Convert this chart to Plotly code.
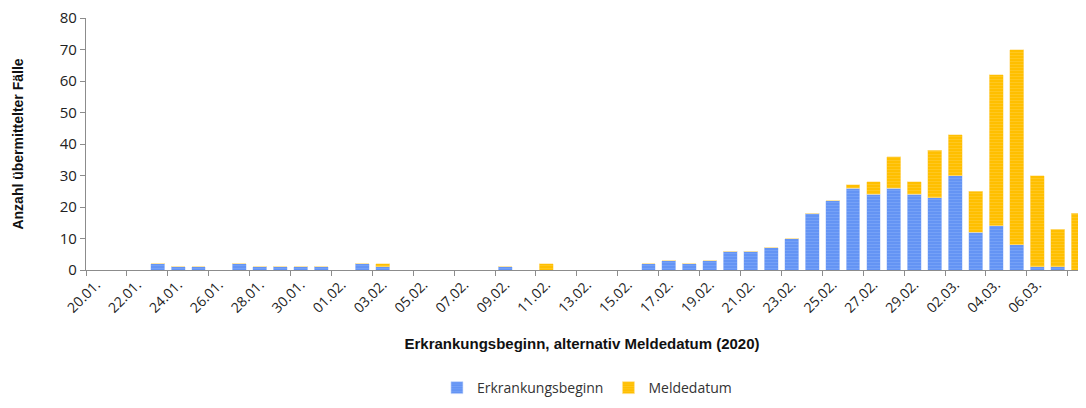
import plotly.graph_objects as go

dates = ["20.01.", "21.01.", "22.01.", "23.01.", "24.01.", "25.01.", "26.01.", "27.01.", "28.01.", "29.01.",
         "30.01.", "31.01.", "01.02.", "02.02.", "03.02.", "04.02.", "05.02.", "06.02.", "07.02.", "08.02.",
         "09.02.", "10.02.", "11.02.", "12.02.", "13.02.", "14.02.", "15.02.", "16.02.", "17.02.", "18.02.",
         "19.02.", "20.02.", "21.02.", "22.02.", "23.02.", "24.02.", "25.02.", "26.02.", "27.02.", "28.02.",
         "29.02.", "01.03.", "02.03.", "03.03.", "04.03.", "05.03.", "06.03.", "07.03.", "08.03."]

erkrankungsbeginn = [0, 0, 0, 2, 1, 1, 0, 2, 1, 1,
                     1, 1, 0, 2, 1, 0, 0, 0, 0, 0,
                     1, 0, 0, 0, 0, 0, 0, 2, 3, 2,
                     3, 6, 6, 7, 10, 18, 22, 26, 24, 26,
                     24, 23, 30, 12, 14, 8, 1, 1, 0]

meldedatum = [0, 0, 0, 0, 0, 0, 0, 0, 0, 0,
              0, 0, 0, 0, 1, 0, 0, 0, 0, 0,
              0, 0, 2, 0, 0, 0, 0, 0, 0, 0,
              0, 0, 0, 0, 0, 0, 0, 1, 4, 10,
              4, 15, 13, 13, 48, 62, 29, 12, 18]

y_ticks = [0, 10, 20, 30, 40, 50, 60, 70, 80]

xs = list(range(len(dates)))
label_idx = xs[::2]
label_text = [dates[i] for i in label_idx]

fig = go.Figure()
fig.add_trace(go.Bar(
    x=xs, y=erkrankungsbeginn, name="Erkrankungsbeginn",
    marker=dict(color="#6494f4", line=dict(color="#c9dafc", width=0.6),
                pattern=dict(shape="-", fgcolor="#86adfa", size=3, solidity=0.35)),
))
fig.add_trace(go.Bar(
    x=xs, y=meldedatum, name="Meldedatum",
    marker=dict(color="#ffbf00", line=dict(color="#ffe29a", width=0.6),
                pattern=dict(shape="-", fgcolor="#ffd040", size=3, solidity=0.35)),
))

fig.update_layout(
    width=1070, height=392,
    barmode="stack", bargap=0.32,
    paper_bgcolor="white", plot_bgcolor="white",
    margin=dict(l=78, r=0, t=10, b=130, autoexpand=False),
    font=dict(family="Open Sans, Liberation Sans, Arial", size=13, color="#222"),
    showlegend=True,
    legend=dict(orientation="h", x=0.505, xanchor="center", y=-0.405, yanchor="top",
                font=dict(size=14, family="Open Sans, Arial", color="#333"),
                traceorder="normal", itemwidth=30),
    xaxis=dict(
        range=[-0.5, 48.0], automargin=False,
        tickmode="array", tickvals=label_idx, ticktext=label_text,
        tickangle=-45, ticks="", showgrid=False, zeroline=False,
        showline=True, linecolor="#8c8c8c", linewidth=1.2,
        tickfont=dict(size=14, family="Open Sans, Arial", color="#222"),
        minor=dict(tickmode="linear", tick0=-0.5, dtick=2, ticks="outside", ticklen=5,
                   tickcolor="#8c8c8c", tickwidth=1.2, showgrid=False),
        title=dict(text="<b>Erkrankungsbeginn, alternativ Meldedatum (2020)</b>",
                   font=dict(size=15, family="Liberation Sans, Arial", color="#111"), standoff=22),
    ),
    yaxis=dict(
        range=[0, 80], tickvals=y_ticks, showgrid=False, zeroline=False, automargin=False,
        showline=True, linecolor="#8c8c8c", linewidth=1.2,
        ticks="outside", ticklen=5, tickcolor="#8c8c8c", ticklabeloverflow="allow",
        tickfont=dict(size=15, family="Open Sans, Arial", color="#222"),
        title=dict(text="<b>Anzahl übermittelter Fälle</b>",
                   font=dict(size=14, family="Liberation Sans, Arial", color="#111"), standoff=32),
    ),
)

fig.write_html("out.html")
